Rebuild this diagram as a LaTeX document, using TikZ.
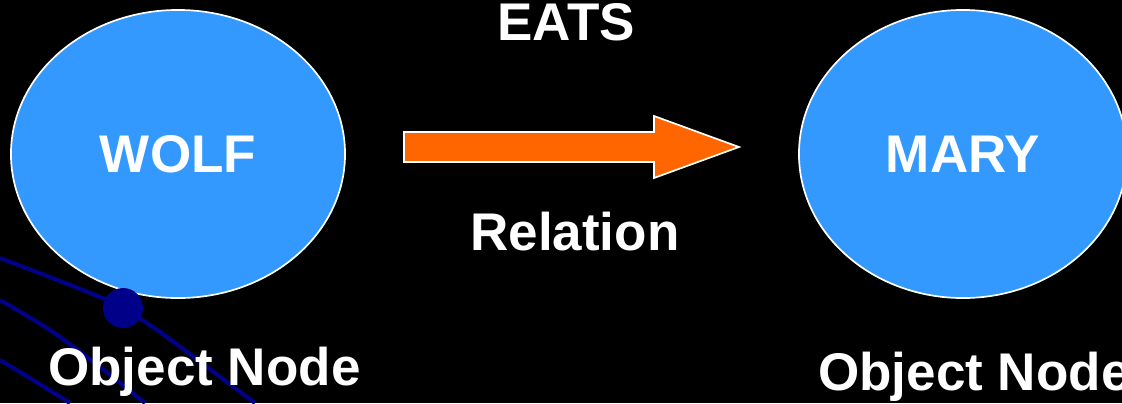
\documentclass[tikz,border=0pt]{standalone}
\usepackage{fontspec}
\setmainfont{Liberation Sans}
\usetikzlibrary{shapes.geometric}
\definecolor{objblue}{HTML}{3399FF}
\definecolor{relorange}{HTML}{FF6600}
\definecolor{decoblue}{HTML}{000088}

\begin{document}
\begin{tikzpicture}[x=0.025cm, y=-0.025cm,
    bigtext/.style={text=white, font=\fontsize{37.7}{40}\selectfont\bfseries},
    objnode/.style={ellipse, draw=white, line width=1.2pt, fill=objblue, inner sep=0pt,
        minimum width=8.35cm, minimum height=7.2cm, bigtext},
    deco/.style={draw=decoblue, line width=2.9pt}]
    % Hintergrund
    \fill[black] (0,0) rectangle (1122,403);
    \useasboundingbox (0,0) rectangle (1122,403);
    \draw[deco] plot[smooth] coordinates {(0,258) (83,290) (123,308) (160,332) (207,367) (255,403)};
    \draw[deco] plot[smooth] coordinates {(0,300) (50,330) (100,367) (145,403)};
    \draw[deco] plot[smooth] coordinates {(0,360) (33,380) (70,403)};

    % Objekte
    \node[objnode] (wolf) at (178,154) {WOLF};
    \node[objnode, minimum width=8.2cm] (mary) at (963,154) {MARY};
    \fill[decoblue] (123,308) circle [radius=0.5cm];

    % Relation
    \draw[draw=white, line width=1.2pt, fill=relorange] (404,132) -- (654,132) -- (654,116)
        -- (739,147) -- (654,178) -- (654,162) -- (404,162) -- cycle;
    \node[bigtext, anchor=base west, inner sep=0pt] (eats) at (497,40) {EATS};
    \node[bigtext, anchor=base west, inner sep=0pt] (rel) at (470,250) {Relation};

    % Beschriftungen
    \node[bigtext, anchor=base west, inner sep=0pt] (wolflabel) at (48,385) {Object Node};
    \node[bigtext, anchor=base west, inner sep=0pt] (marylabel) at (818,390) {Object Node};
\end{tikzpicture}
\end{document}
